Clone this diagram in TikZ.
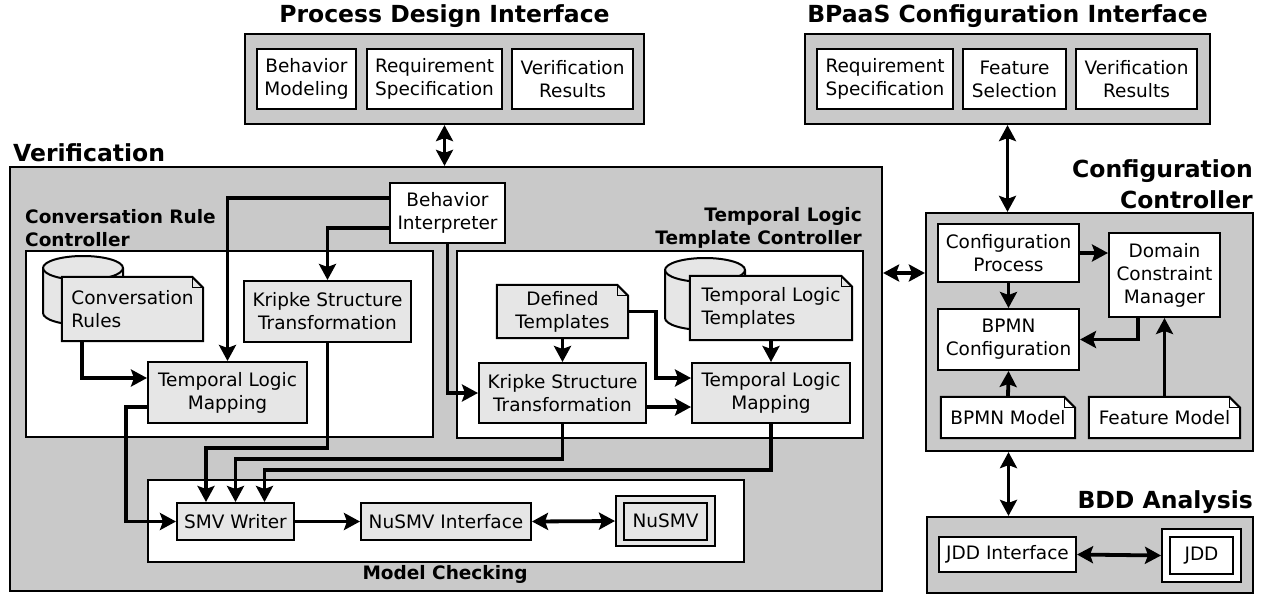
\documentclass[tikz,border=0pt]{standalone}
\usepackage{fontspec}
\setmainfont{DejaVu Sans}
\usetikzlibrary{arrows.meta,calc}
\definecolor{panelgray}{RGB}{201,201,201}
\definecolor{nodegray}{RGB}{230,230,230}
\pgfdeclarelayer{back}
\pgfdeclarelayer{mid}
\pgfsetlayers{back,mid,main}

\tikzset{
  sz/.style 2 args={minimum width=#1pt, minimum height=#2pt},
  panel/.style={draw, line width=2.2pt, fill=panelgray, inner sep=0pt},
  inset/.style={draw, line width=2pt, fill=white, inner sep=0pt},
  txt/.style={inner sep=0pt, align=center, font=\fontsize{18.5}{23}\selectfont},
  box/.style={txt, draw, line width=2pt},
  wbox/.style={box, fill=white},
  gbox/.style={box, fill=nodegray},
  heading/.style={inner sep=0pt, font=\fontsize{23.5}{31}\selectfont\bfseries},
  subheading/.style={inner sep=0pt, font=\fontsize{18.5}{23}\selectfont\bfseries},
  conn/.style={line width=3.8pt, -{Stealth[length=16pt, width=17pt, inset=3pt]}},
  biconn/.style={line width=3.8pt, {Stealth[length=16pt, width=17pt, inset=3pt]}-{Stealth[length=16pt, width=17pt, inset=3pt]}},
}

% dog-eared document outline behind a note node
\newcommand\notefold[2]{%
  \begin{pgfonlayer}{mid}
    \draw[line width=2pt, fill=#2, line join=miter]
      (#1.south west) -- (#1.north west) -- ([xshift=-11pt]#1.north east)
      -- ([yshift=-11pt]#1.north east) -- (#1.south east) -- cycle;
    \draw[line width=1.2pt]
      ([xshift=-11pt]#1.north east) -- ([xshift=-11pt,yshift=-11pt]#1.north east)
      -- ([yshift=-11pt]#1.north east);
  \end{pgfonlayer}}

% database drum: left x, right x, top cap centre y, bottom cap centre y
\newcommand\drum[4]{%
  \begin{pgfonlayer}{mid}
    \pgfmathsetmacro\drumr{(#2-#1)/2}
    \draw[line width=2pt, fill=nodegray]
      (#1,#3) arc[start angle=180, end angle=360, x radius=\drumr, y radius=12]
      -- (#2,#4) arc[start angle=0, end angle=180, x radius=\drumr, y radius=12] -- cycle;
    \draw[line width=2pt]
      (#1,#3) arc[start angle=180, end angle=0, x radius=\drumr, y radius=12];
  \end{pgfonlayer}}

\begin{document}
\begin{tikzpicture}[x=1pt, y=-1pt]
\useasboundingbox (0,0) rectangle (1268,595);

% ---------- panels ----------
\begin{pgfonlayer}{back}
  \node[panel, sz={399}{90}]  (pdi)  at (444.5,79)   {};
  \node[panel, sz={405}{90}]  (bci)  at (1007.5,79)  {};
  \node[panel, sz={872}{424}] (ver)  at (446,379)    {};
  \node[inset, sz={407}{186}] (crc)  at (229.5,344)  {};
  \node[inset, sz={406}{187}] (tltc) at (660,344.5)  {};
  \node[inset, sz={596}{82}]  (mc)   at (446,521)    {};
  \node[panel, sz={327}{238}] (cc)   at (1089.5,332) {};
  \node[panel, sz={326}{76}]  (bdd)  at (1090,555)   {};
\end{pgfonlayer}

% ---------- headings ----------
\node[heading] (hpdi) at (444.5,16) {Process Design Interface};
\node[heading] (hbci) at (1007.5,16) {BPaaS Configuration Interface};
\node[heading, anchor=west] (hver) at (13,153) {Verification};
\node[heading, anchor=east, align=right] (hcc) at (1253,184.5) {Configuration\\Controller};
\node[heading, anchor=east] (hbdd) at (1253,502) {BDD Analysis};
\node[subheading, anchor=west, align=left] (hcrc) at (25,228.5) {Conversation Rule\\Controller};
\node[subheading, anchor=east, align=right] (htltc) at (862,227.5) {Temporal Logic\\Template Controller};
\node[subheading] (hmc) at (445,574) {Model Checking};

% ---------- Process Design Interface ----------
\node[wbox, sz={99}{60}]  (bm)  at (306.5,79) {Behavior\\Modeling};
\node[wbox, sz={135}{60}] (rs1) at (434.5,79) {Requirement\\Specification};
\node[wbox, sz={121}{60}] (vr1) at (572.5,79) {Verification\\Results};

% ---------- BPaaS Configuration Interface ----------
\node[wbox, sz={136}{60}] (rs2) at (885,79)    {Requirement\\Specification};
\node[wbox, sz={103}{60}] (fs)  at (1014.5,79) {Feature\\Selection};
\node[wbox, sz={121}{60}] (vr2) at (1136.5,79) {Verification\\Results};

% ---------- Verification ----------
\node[wbox, sz={115}{60}] (bi) at (447.5,213) {Behavior\\Interpreter};

\drum{43}{123}{268}{313}
\node[txt, align=left, sz={141}{64}] (cr) at (132.5,309) {Conversation\\Rules};
\notefold{cr}{nodegray}
\node[gbox, sz={167}{61}] (kst1) at (327.5,311.5) {Kripke Structure\\Transformation};
\node[gbox, sz={159}{61}] (tlm1) at (227.5,392.5) {Temporal Logic\\Mapping};

\node[txt, sz={131}{53}] (dt) at (562.5,311.5) {Defined\\Templates};
\notefold{dt}{nodegray}
\drum{665}{745}{270}{318}
\node[txt, align=left, sz={162}{64}] (tlt) at (771,308) {Temporal Logic\\Templates};
\notefold{tlt}{nodegray}
\node[gbox, sz={167}{60}] (kst2) at (562.5,393) {Kripke Structure\\Transformation};
\node[gbox, sz={158}{60}] (tlm2) at (771,393)   {Temporal Logic\\Mapping};

\node[gbox, sz={117}{37}] (smv) at (235.5,521.5) {SMV Writer};
\node[gbox, sz={170}{37}] (nsi) at (446,521.5)   {NuSMV Interface};
\node[gbox, sz={99}{50}]  (ns)  at (665.5,521)   {};
\node[gbox, sz={83}{37}]  (nsin) at (ns.center)  {NuSMV};

% ---------- Configuration Controller ----------
\node[wbox, sz={141}{58}] (cp)  at (1008.5,253)   {Configuration\\Process};
\node[wbox, sz={111}{84}] (dcm) at (1164.5,275)   {Domain\\Constraint\\Manager};
\node[wbox, sz={141}{61}] (bc)  at (1008.5,339.5) {BPMN\\Configuration};
\node[txt, sz={134}{41}] (bmod) at (1008,417.5)   {BPMN Model};
\notefold{bmod}{white}
\node[txt, sz={151}{41}] (fm)   at (1164.5,417.5) {Feature Model};
\notefold{fm}{white}

% ---------- BDD Analysis ----------
\node[wbox, sz={137}{35}] (jddi)  at (1007.5,554.5) {JDD Interface};
\node[wbox, sz={79}{53}]  (jdd)   at (1201.5,555.5) {};
\node[wbox, sz={63}{37}]  (jddin) at (jdd.center)   {JDD};

% ---------- connectors ----------
\coordinate (vc) at (0,273);
\draw[biconn] (pdi.south) -- (pdi.south |- ver.north);
\draw[biconn] (bci.south) -- (bci.south |- cc.north);
\draw[biconn] (ver.east |- vc) -- (cc.west |- vc);
\draw[biconn] (cc.south -| cp) -- (bdd.north -| cp);

\draw[conn] (cp.east) -- (cp.east -| dcm.west);
\draw[conn] (cp.south) -- (bc.north);
\draw[conn] ([xshift=-26.5pt]dcm.south) |- (bc.east);
\draw[conn] (bmod.north) -- (bc.south);
\draw[conn] (fm.north) -- (dcm.south);
\draw[biconn] (jddi.east) -- (jdd.west);

\draw[conn] ([yshift=15pt]bi.west) -| (tlm1.north);
\draw[conn] ([yshift=-15pt]bi.west) -| (kst1.north);
\draw[conn] ([xshift=-50.5pt]cr.south) |- ([yshift=14.5pt]tlm1.west);
\draw[conn] ([yshift=-14.5pt]tlm1.west) -- ++(-21,0) |- (smv.west);
\draw[conn] (kst1.south) -- ++(0,105) -| ([xshift=-29.5pt]smv.north);
\draw[conn] (kst2.south) -- ++(0,35) -| (smv.north);
\draw[conn] (tlm2.south) -- ++(0,46) -| ([xshift=29pt]smv.north);

\draw[conn] (bi.south) |- (kst2.west);
\draw[conn] (dt.south) -- (kst2.north);
\draw[conn] (dt.east) -- ++(28,0) |- ([yshift=15pt]tlm2.west);
\draw[conn] ([yshift=-14pt]kst2.east) -- ([yshift=-14pt]tlm2.west);
\draw[conn] (tlt.south) -- (tlm2.north);

\draw[conn] (smv.east) -- (nsi.west);
\draw[biconn] (nsi.east) -- (ns.west);
\end{tikzpicture}
\end{document}
